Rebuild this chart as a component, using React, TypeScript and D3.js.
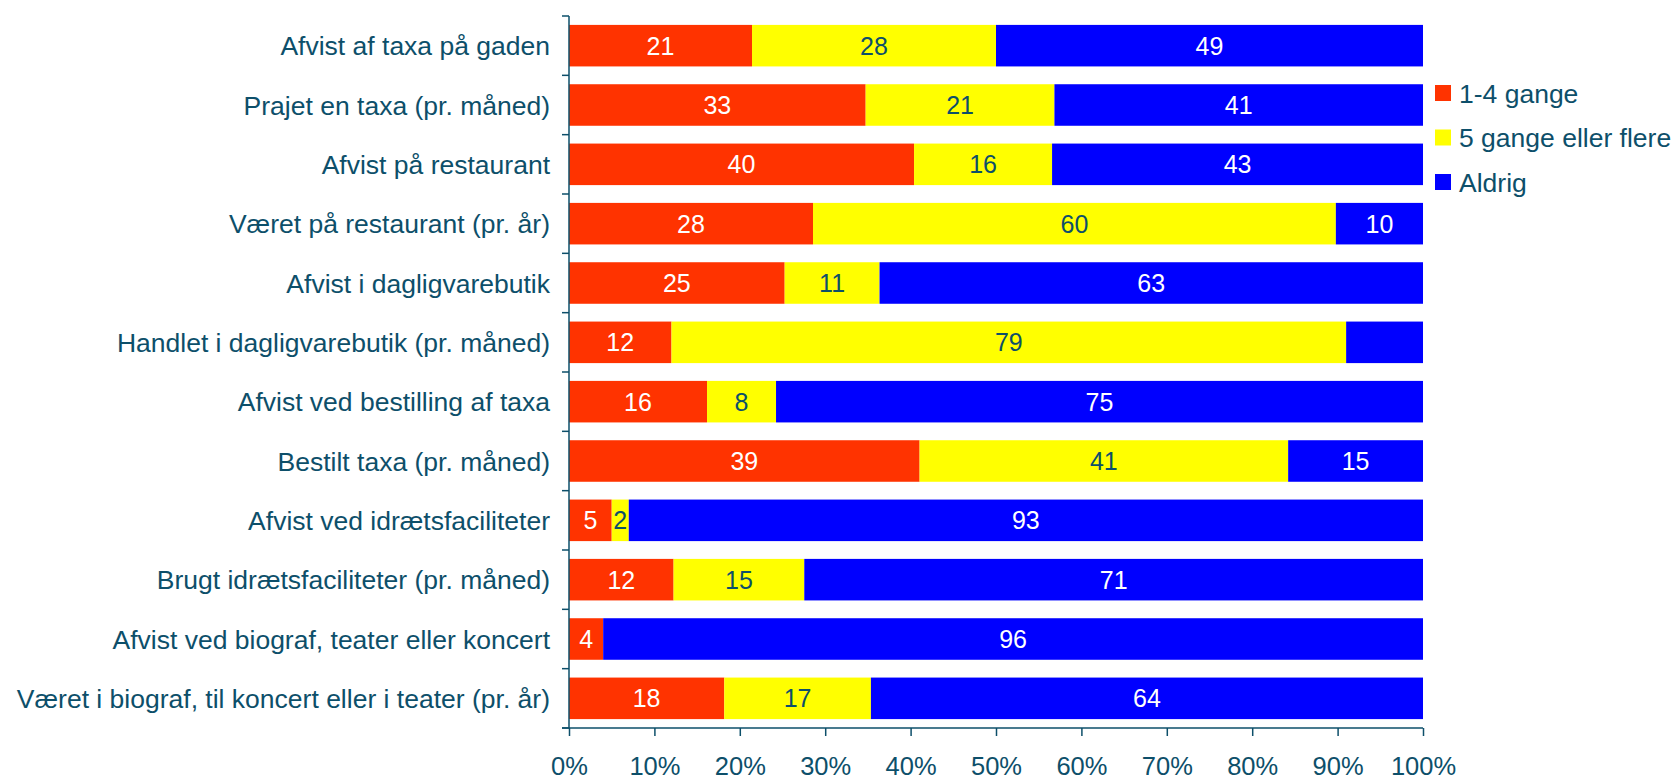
import React, { useRef, useEffect } from "react";
import * as d3 from "d3";

const categories = [
  "Afvist af taxa på gaden",
  "Prajet en taxa (pr. måned)",
  "Afvist på restaurant",
  "Været på restaurant (pr. år)",
  "Afvist i dagligvarebutik",
  "Handlet i dagligvarebutik (pr. måned)",
  "Afvist ved bestilling af taxa",
  "Bestilt taxa (pr. måned)",
  "Afvist ved idrætsfaciliteter",
  "Brugt idrætsfaciliteter (pr. måned)",
  "Afvist ved biograf, teater eller koncert",
  "Været i biograf, til koncert eller i teater (pr. år)",
];

const oneToFour = [21, 33, 40, 28, 25, 12, 16, 39, 5, 12, 4, 18];
const fivePlus = [28, 21, 16, 60, 11, 79, 8, 41, 2, 15, 0, 17];
const never = [49, 41, 43, 10, 63, 9, 75, 15, 93, 71, 96, 64];

// the blue part of "Handlet i dagligvarebutik" carries no label in the original
const hiddenLabels = ["Aldrig|Handlet i dagligvarebutik (pr. måned)"];

const seriesNames = ["1-4 gange", "5 gange eller flere", "Aldrig"];
const seriesColors = ["#ff3300", "#ffff00", "#0000ff"];
const labelColors = ["#ffffff", "#0d4f6a", "#ffffff"];
const ticks = [0, 0.1, 0.2, 0.3, 0.4, 0.5, 0.6, 0.7, 0.8, 0.9, 1];

const textColor = "#0d4f6a";
const font = "'Liberation Sans', Arial, sans-serif";

const App = () => {
  const width = 1675;
  const height = 779;
  const margin = { top: 16, left: 569, right: 252, bottom: 51 };
  const plotWidth = width - margin.left - margin.right;
  const plotHeight = height - margin.top - margin.bottom;

  const svgRef = useRef<SVGSVGElement>(null);

  useEffect(() => {
    if (!svgRef.current) return;
    const svg = d3.select(svgRef.current);
    svg.selectAll("*").remove();

    const rows = categories.map((c, i) => ({
      category: c,
      [seriesNames[0]]: oneToFour[i],
      [seriesNames[1]]: fivePlus[i],
      [seriesNames[2]]: never[i],
    }));

    const stacked = d3
      .stack<any>()
      .keys(seriesNames)
      .offset(d3.stackOffsetExpand)(rows);

    const x = d3.scaleLinear([0, 1], [0, plotWidth]);
    const y = d3.scaleBand(categories, [0, plotHeight]).paddingInner(0.3).paddingOuter(0.15);

    const g = svg
      .append("g")
      .attr("transform", `translate(${margin.left}, ${margin.top})`);

    const layers = g
      .selectAll("g.layer")
      .data(stacked)
      .join("g")
      .attr("class", "layer");

    layers
      .selectAll("rect")
      .data((s) => s.map((d) => ({ d, key: s.key })))
      .join("rect")
      .attr("x", (e) => x(e.d[0]))
      .attr("y", (e) => y(e.d.data.category)!)
      .attr("width", (e) => x(e.d[1]) - x(e.d[0]))
      .attr("height", y.bandwidth())
      .attr("fill", (e) => seriesColors[seriesNames.indexOf(e.key)]);

    layers
      .selectAll("text")
      .data((s) =>
        s
          .map((d) => ({ d, key: s.key }))
          .filter(
            (e) =>
              e.d.data[e.key] > 0 &&
              !hiddenLabels.includes(`${e.key}|${e.d.data.category}`)
          )
      )
      .join("text")
      .attr("x", (e) => (x(e.d[0]) + x(e.d[1])) / 2)
      .attr("y", (e) => y(e.d.data.category)! + y.bandwidth() / 2)
      .attr("dy", "0.36em")
      .attr("text-anchor", "middle")
      .attr("font-family", font)
      .attr("font-size", 25)
      .attr("fill", (e) => labelColors[seriesNames.indexOf(e.key)])
      .text((e) => e.d.data[e.key]);

    // y axis: line with ticks between categories
    const yAxis = g.append("g").attr("color", textColor);
    yAxis
      .append("line")
      .attr("x1", 0)
      .attr("x2", 0)
      .attr("y1", 0)
      .attr("y2", plotHeight)
      .attr("stroke", "currentColor")
      .attr("stroke-width", 1.5);
    yAxis
      .selectAll("line.tick")
      .data(d3.range(categories.length + 1))
      .join("line")
      .attr("class", "tick")
      .attr("x1", -7)
      .attr("x2", 0)
      .attr("y1", (i) => (plotHeight / categories.length) * i)
      .attr("y2", (i) => (plotHeight / categories.length) * i)
      .attr("stroke", "currentColor")
      .attr("stroke-width", 1.5);
    yAxis
      .selectAll("text")
      .data(categories)
      .join("text")
      .attr("x", -19)
      .attr("y", (c) => y(c)! + y.bandwidth() / 2)
      .attr("dy", "0.36em")
      .attr("text-anchor", "end")
      .attr("font-family", font)
      .attr("font-size", 26.5)
      .attr("fill", textColor)
      .text((c) => c);

    // x axis
    const xAxis = g
      .append("g")
      .attr("transform", `translate(0, ${plotHeight})`)
      .call(
        d3
          .axisBottom(x)
          .tickValues(ticks)
          .tickFormat(d3.format(".0%"))
          .tickSize(8)
          .tickSizeOuter(0)
      );
    xAxis.attr("color", textColor);
    xAxis.select(".domain").attr("stroke-width", 1.5).attr("d", `M-7,0H${plotWidth}`);
    xAxis.selectAll(".tick line").attr("stroke-width", 1.5);
    xAxis
      .selectAll(".tick text")
      .attr("y", 38)
      .attr("dy", "0.36em")
      .attr("font-family", font)
      .attr("font-size", 25.5)
      .attr("fill", textColor);

    // legend
    const legend = svg
      .append("g")
      .attr("transform", `translate(${margin.left + plotWidth + 12}, 93)`);
    const items = legend
      .selectAll("g")
      .data(seriesNames)
      .join("g")
      .attr("transform", (_, i) => `translate(0, ${i * 44.5})`);
    items
      .append("rect")
      .attr("x", 0)
      .attr("y", -8)
      .attr("width", 16)
      .attr("height", 16)
      .attr("fill", (_, i) => seriesColors[i]);
    items
      .append("text")
      .attr("x", 24)
      .attr("y", 0)
      .attr("dy", "0.36em")
      .attr("font-family", font)
      .attr("font-size", 26.5)
      .attr("fill", textColor)
      .text((d) => d);
  }, []);

  return (
    <svg
      ref={svgRef}
      width={width}
      height={height}
      style={{ position: "absolute", left: 0, top: 0, background: "white" }}
    />
  );
};

export default App;
